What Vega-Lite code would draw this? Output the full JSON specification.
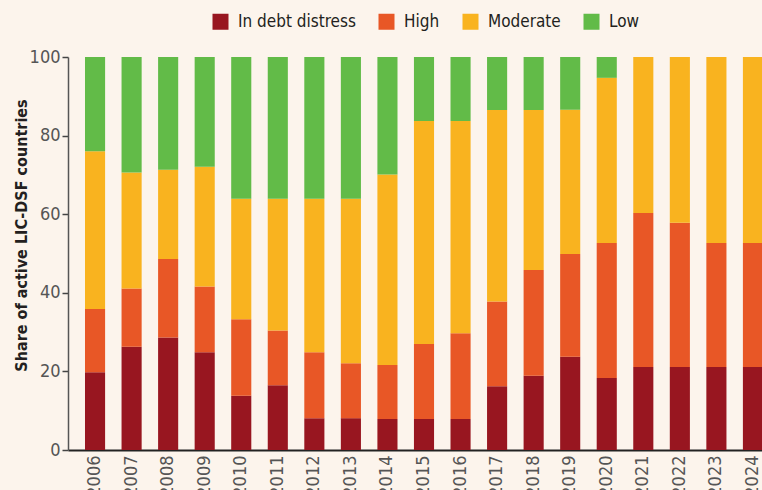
{
  "$schema": "https://vega.github.io/schema/vega-lite/v6.json",
  "autosize": {"type": "none"},
  "width": 694,
  "height": 393,
  "padding": {"left": 68, "top": 57, "right": 0, "bottom": 40},
  "background": "#fcf4ec",
  "config": {
    "view": {"stroke": null},
    "font": "DejaVu Sans Condensed, Roboto Condensed, Roboto"
  },
  "data": {
    "values": [
      {"year": "2006", "risk": "In debt distress", "share": 19.8},
      {"year": "2006", "risk": "High", "share": 16.1},
      {"year": "2006", "risk": "Moderate", "share": 40.1},
      {"year": "2006", "risk": "Low", "share": 24.0},
      {"year": "2007", "risk": "In debt distress", "share": 26.3},
      {"year": "2007", "risk": "High", "share": 14.8},
      {"year": "2007", "risk": "Moderate", "share": 29.5},
      {"year": "2007", "risk": "Low", "share": 29.4},
      {"year": "2008", "risk": "In debt distress", "share": 28.6},
      {"year": "2008", "risk": "High", "share": 20.0},
      {"year": "2008", "risk": "Moderate", "share": 22.7},
      {"year": "2008", "risk": "Low", "share": 28.7},
      {"year": "2009", "risk": "In debt distress", "share": 24.9},
      {"year": "2009", "risk": "High", "share": 16.7},
      {"year": "2009", "risk": "Moderate", "share": 30.5},
      {"year": "2009", "risk": "Low", "share": 27.9},
      {"year": "2010", "risk": "In debt distress", "share": 13.8},
      {"year": "2010", "risk": "High", "share": 19.5},
      {"year": "2010", "risk": "Moderate", "share": 30.6},
      {"year": "2010", "risk": "Low", "share": 36.1},
      {"year": "2011", "risk": "In debt distress", "share": 16.5},
      {"year": "2011", "risk": "High", "share": 13.9},
      {"year": "2011", "risk": "Moderate", "share": 33.5},
      {"year": "2011", "risk": "Low", "share": 36.1},
      {"year": "2012", "risk": "In debt distress", "share": 8.1},
      {"year": "2012", "risk": "High", "share": 16.8},
      {"year": "2012", "risk": "Moderate", "share": 39.0},
      {"year": "2012", "risk": "Low", "share": 36.1},
      {"year": "2013", "risk": "In debt distress", "share": 8.1},
      {"year": "2013", "risk": "High", "share": 14.0},
      {"year": "2013", "risk": "Moderate", "share": 41.8},
      {"year": "2013", "risk": "Low", "share": 36.1},
      {"year": "2014", "risk": "In debt distress", "share": 7.9},
      {"year": "2014", "risk": "High", "share": 13.7},
      {"year": "2014", "risk": "Moderate", "share": 48.5},
      {"year": "2014", "risk": "Low", "share": 29.9},
      {"year": "2015", "risk": "In debt distress", "share": 7.9},
      {"year": "2015", "risk": "High", "share": 19.1},
      {"year": "2015", "risk": "Moderate", "share": 56.7},
      {"year": "2015", "risk": "Low", "share": 16.3},
      {"year": "2016", "risk": "In debt distress", "share": 7.9},
      {"year": "2016", "risk": "High", "share": 21.8},
      {"year": "2016", "risk": "Moderate", "share": 54.0},
      {"year": "2016", "risk": "Low", "share": 16.3},
      {"year": "2017", "risk": "In debt distress", "share": 16.2},
      {"year": "2017", "risk": "High", "share": 21.6},
      {"year": "2017", "risk": "Moderate", "share": 48.7},
      {"year": "2017", "risk": "Low", "share": 13.5},
      {"year": "2018", "risk": "In debt distress", "share": 18.9},
      {"year": "2018", "risk": "High", "share": 26.9},
      {"year": "2018", "risk": "Moderate", "share": 40.7},
      {"year": "2018", "risk": "Low", "share": 13.5},
      {"year": "2019", "risk": "In debt distress", "share": 23.7},
      {"year": "2019", "risk": "High", "share": 26.2},
      {"year": "2019", "risk": "Moderate", "share": 36.7},
      {"year": "2019", "risk": "Low", "share": 13.4},
      {"year": "2020", "risk": "In debt distress", "share": 18.3},
      {"year": "2020", "risk": "High", "share": 34.4},
      {"year": "2020", "risk": "Moderate", "share": 42.0},
      {"year": "2020", "risk": "Low", "share": 5.3},
      {"year": "2021", "risk": "In debt distress", "share": 21.1},
      {"year": "2021", "risk": "High", "share": 39.2},
      {"year": "2021", "risk": "Moderate", "share": 39.7},
      {"year": "2021", "risk": "Low", "share": 0},
      {"year": "2022", "risk": "In debt distress", "share": 21.1},
      {"year": "2022", "risk": "High", "share": 36.7},
      {"year": "2022", "risk": "Moderate", "share": 42.2},
      {"year": "2022", "risk": "Low", "share": 0},
      {"year": "2023", "risk": "In debt distress", "share": 21.1},
      {"year": "2023", "risk": "High", "share": 31.6},
      {"year": "2023", "risk": "Moderate", "share": 47.3},
      {"year": "2023", "risk": "Low", "share": 0},
      {"year": "2024", "risk": "In debt distress", "share": 21.1},
      {"year": "2024", "risk": "High", "share": 31.6},
      {"year": "2024", "risk": "Moderate", "share": 47.3},
      {"year": "2024", "risk": "Low", "share": 0}
    ]
  },
  "transform": [
    {"calculate": "indexof(['In debt distress', 'High', 'Moderate', 'Low'], datum.risk)", "as": "stackOrder"}
  ],
  "mark": {"type": "bar"},
  "encoding": {
    "x": {
      "field": "year",
      "type": "ordinal",
      "scale": {"range": [0, 712], "paddingInner": 0.45, "paddingOuter": 0.465},
      "axis": {
        "title": null,
        "labelAngle": -90,
        "labelFontSize": 18,
        "labelColor": "#555555",
        "labelPadding": 5,
        "ticks": false,
        "domainColor": "#222222",
        "domainWidth": 2
      }
    },
    "y": {
      "field": "share",
      "type": "quantitative",
      "stack": "zero",
      "scale": {"domain": [0, 100], "nice": false},
      "axis": {
        "title": "Share of active LIC-DSF countries",
        "titleFontSize": 16,
        "titleFontWeight": "bold",
        "titleColor": "#231f20",
        "titleAngle": -90,
        "titleX": -42,
        "titleY": 178,
        "titleAlign": "center",
        "titleBaseline": "alphabetic",
        "values": [0, 20, 40, 60, 80, 100],
        "grid": false,
        "labelFontSize": 18,
        "labelColor": "#555555",
        "labelPadding": 2,
        "tickSize": 6,
        "tickColor": "#444444",
        "tickWidth": 1.5,
        "domainColor": "#555555",
        "domainWidth": 1.5
      }
    },
    "color": {
      "field": "risk",
      "type": "nominal",
      "sort": ["In debt distress", "High", "Moderate", "Low"],
      "scale": {
        "domain": ["In debt distress", "High", "Moderate", "Low"],
        "range": ["#981620", "#e85726", "#f9b31f", "#62bb48"]
      },
      "legend": {
        "title": null,
        "orient": "none",
        "direction": "horizontal",
        "legendX": 144,
        "legendY": -44,
        "symbolType": "square",
        "symbolSize": 256,
        "symbolStrokeWidth": 0,
        "labelFontSize": 17,
        "labelColor": "#231f20",
        "labelOffset": 9,
        "columnPadding": 22
      }
    },
    "order": {"field": "stackOrder", "type": "quantitative", "sort": "ascending"}
  }
}
